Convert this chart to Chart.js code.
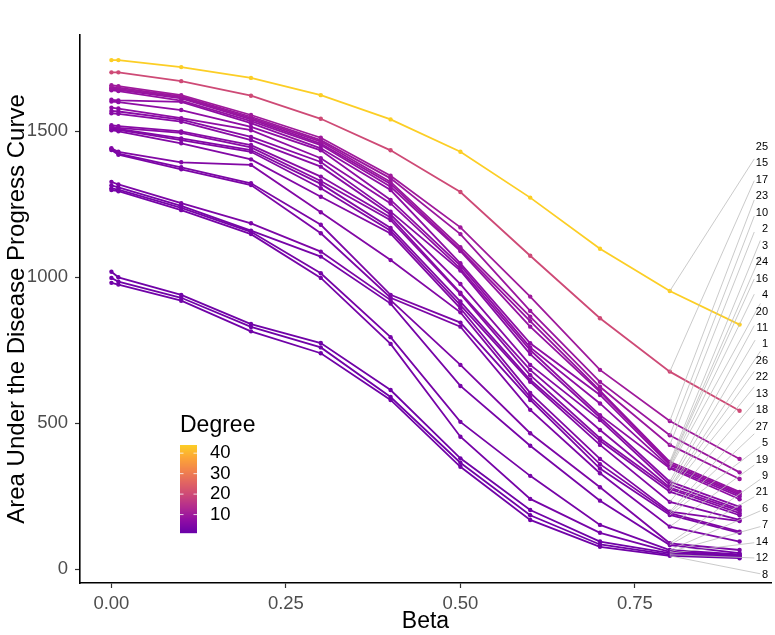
<!DOCTYPE html>
<html>
<head>
<meta charset="utf-8">
<script src="https://cdn.jsdelivr.net/npm/chart.js@4.4.1/dist/chart.umd.min.js"></script>
<style>
  body { margin: 0; background: #fff; }
  #wrap { width: 775px; height: 635px; }
</style>
</head>
<body>
<div id="wrap"><canvas id="chart" width="775" height="635"></canvas></div>
<script>
// x values of every series
const betaValues = [0, 0.01, 0.1, 0.2, 0.3, 0.4, 0.5, 0.6, 0.7, 0.8, 0.9];

// AUDPC per node
const node25 = [1744, 1744, 1720, 1683, 1624, 1541, 1430, 1273, 1098, 953, 838];
const node15 = [1702, 1702, 1672, 1622, 1543, 1435, 1292, 1074, 860, 677, 543];
const node17 = [1658, 1655, 1624, 1556, 1478, 1348, 1171, 934, 683, 508, 378];
const node23 = [1652, 1650, 1620, 1550, 1470, 1339, 1148, 885, 642, 459, 332];
const node10 = [1648, 1645, 1616, 1545, 1465, 1327, 1103, 865, 625, 426, 309];
const node2 = [1645, 1642, 1613, 1541, 1458, 1320, 1094, 850, 612, 368, 265];
const node3 = [1641, 1638, 1605, 1535, 1453, 1310, 1090, 831, 608, 362, 260];
const node24 = [1608, 1606, 1601, 1528, 1442, 1299, 1048, 774, 597, 357, 255];
const node16 = [1602, 1600, 1573, 1515, 1435, 1265, 1040, 760, 568, 350, 249];
const node4 = [1581, 1578, 1545, 1504, 1408, 1253, 1030, 751, 528, 346, 240];
const node20 = [1570, 1568, 1540, 1481, 1395, 1225, 1023, 737, 520, 300, 214];
const node11 = [1562, 1560, 1533, 1470, 1379, 1215, 977, 700, 511, 290, 205];
const node1 = [1521, 1518, 1500, 1453, 1345, 1205, 947, 683, 477, 280, 200];
const node26 = [1516, 1512, 1495, 1445, 1330, 1196, 943, 665, 449, 275, 192];
const node22 = [1512, 1508, 1476, 1436, 1320, 1169, 917, 649, 440, 266, 185];
const node13 = [1508, 1505, 1470, 1430, 1305, 1160, 905, 642, 426, 231, 169];
const node18 = [1504, 1500, 1459, 1404, 1276, 1150, 894, 604, 378, 197, 165];
const node27 = [1442, 1430, 1394, 1385, 1223, 1059, 880, 590, 360, 192, 129];
const node5 = [1440, 1424, 1377, 1322, 1180, 940, 845, 580, 345, 186, 125];
const node19 = [1436, 1420, 1370, 1316, 1151, 930, 831, 546, 329, 146, 95];
const node9 = [1327, 1318, 1254, 1185, 1088, 922, 700, 466, 281, 89, 66];
const node21 = [1315, 1308, 1245, 1160, 1071, 910, 628, 423, 235, 83, 55];
const node6 = [1305, 1300, 1238, 1156, 1014, 795, 505, 320, 152, 66, 51];
const node7 = [1299, 1295, 1230, 1148, 998, 772, 454, 241, 125, 60, 48];
const node14 = [1019, 1000, 940, 840, 775, 614, 380, 203, 95, 55, 45];
const node12 = [998, 985, 930, 830, 760, 590, 365, 185, 85, 50, 42];
const node8 = [981, 975, 920, 815, 740, 580, 351, 169, 77, 46, 38];

// label order on the right side, top to bottom
const nodeIds = ["25", "15", "17", "23", "10", "2", "3", "24", "16", "4", "20", "11", "1", "26",
  "22", "13", "18", "27", "5", "19", "9", "21", "6", "7", "14", "12", "8"];
const nodeValues = [node25, node15, node17, node23, node10, node2, node3, node24, node16, node4,
  node20, node11, node1, node26, node22, node13, node18, node27, node5, node19, node9, node21,
  node6, node7, node14, node12, node8];
const nodeDegree = [44, 20, 10, 9, 9, 8, 8, 7, 7, 7, 6, 6, 6, 6, 5, 5, 5, 5, 4, 4, 4, 3, 3, 3, 2, 2, 2];

const xTicks = [0, 0.25, 0.5, 0.75];
const yTicks = [0, 500, 1000, 1500];
const degreeLimits = [1, 44];
const legendTicks = [10, 20, 30, 40];
const labelBeta = 0.8;

const FONT = "'Liberation Sans', Arial, sans-serif";

// plasma palette, used from 0.2 to 0.9
const plasmaStops = ["#0D0887", "#41049D", "#6A00A8", "#8F0DA4", "#B12A90", "#CC4778",
  "#E16462", "#F2844B", "#FCA636", "#FCCE25", "#F0F921"];

function hexToRgb(h) {
  return [parseInt(h.slice(1, 3), 16), parseInt(h.slice(3, 5), 16), parseInt(h.slice(5, 7), 16)];
}

function plasma(t) {
  let p = t * (plasmaStops.length - 1);
  let i = Math.min(Math.floor(p), plasmaStops.length - 2);
  let f = p - i;
  let a = hexToRgb(plasmaStops[i]);
  let b = hexToRgb(plasmaStops[i + 1]);
  let c = a.map((v, k) => Math.round(v + (b[k] - v) * f));
  return `rgb(${c[0]},${c[1]},${c[2]})`;
}

function degreeColor(d) {
  let t = (d - degreeLimits[0]) / (degreeLimits[1] - degreeLimits[0]);
  return plasma(0.2 + 0.7 * t);
}

let datasets = nodeValues.map((vals, i) => ({
  label: nodeIds[i],
  data: betaValues.map((b, j) => ({ x: b, y: vals[j] })),
  borderColor: degreeColor(nodeDegree[i]),
  backgroundColor: degreeColor(nodeDegree[i]),
  pointBackgroundColor: degreeColor(nodeDegree[i]),
  borderWidth: 1.8,
  pointRadius: 2.2,
  pointBorderWidth: 0,
  tension: 0,
  order: i,
}));

const repelLabels = {
  id: "repelLabels",
  afterDatasetsDraw(chart) {
    const ctx = chart.ctx;
    const xs = chart.scales.x;
    const ys = chart.scales.y;
    const area = chart.chartArea;
    const idx = betaValues.indexOf(labelBeta);
    const firstY = area.top + 112;
    const step = 16.45;
    const rightX = area.right - 3;
    ctx.save();
    ctx.font = `11px ${FONT}`;
    nodeIds.forEach((id, i) => {
      const px = xs.getPixelForValue(labelBeta);
      const py = ys.getPixelForValue(nodeValues[i][idx]);
      const ly = firstY + i * step;
      const w = ctx.measureText(id).width;
      const cx = rightX - w / 2;
      const hw = w / 2 + 1.5;
      const hh = 6;
      // clip the segment at the label box
      let dx = cx - px;
      let dy = ly - py;
      let t = Math.min(
        dx !== 0 ? (Math.abs(dx) - hw) / Math.abs(dx) : 1,
        dy !== 0 ? Math.max((Math.abs(dy) - hh) / Math.abs(dy), (Math.abs(dx) - hw) / Math.abs(dx)) : 1
      );
      t = Math.max(0, Math.min(1, t));
      ctx.strokeStyle = "#BDBDBD";
      ctx.lineWidth = 0.8;
      ctx.beginPath();
      ctx.moveTo(px, py);
      ctx.lineTo(px + dx * t, py + dy * t);
      ctx.stroke();
      ctx.fillStyle = "#000";
      ctx.textAlign = "right";
      ctx.textBaseline = "middle";
      ctx.fillText(id, rightX, ly);
    });
    ctx.restore();
  },
};

const colorBar = {
  id: "colorBar",
  afterDatasetsDraw(chart) {
    const ctx = chart.ctx;
    const area = chart.chartArea;
    const left = area.left + 100;
    const top = area.top + 410;
    const w = 17;
    const h = 88;
    ctx.save();
    ctx.fillStyle = "#000";
    ctx.font = `23px ${FONT}`;
    ctx.textAlign = "left";
    ctx.textBaseline = "alphabetic";
    ctx.fillText("Degree", left, top - 13);
    for (let k = 0; k < h; k++) {
      const d = degreeLimits[1] - (k + 0.5) / h * (degreeLimits[1] - degreeLimits[0]);
      ctx.fillStyle = degreeColor(d);
      ctx.fillRect(left, top + k, w, 1.2);
    }
    ctx.font = `18.5px ${FONT}`;
    ctx.textBaseline = "middle";
    legendTicks.forEach((v) => {
      const y = top + h - (v - degreeLimits[0]) / (degreeLimits[1] - degreeLimits[0]) * h;
      ctx.strokeStyle = "rgba(255,255,255,0.8)";
      ctx.lineWidth = 1;
      ctx.beginPath();
      ctx.moveTo(left, y);
      ctx.lineTo(left + 3.5, y);
      ctx.moveTo(left + w - 3.5, y);
      ctx.lineTo(left + w, y);
      ctx.stroke();
      ctx.fillStyle = "#000";
      ctx.fillText(String(v), left + w + 13, y);
    });
    ctx.restore();
  },
};

new Chart(document.getElementById("chart"), {
  type: "line",
  data: { datasets },
  options: {
    responsive: false,
    devicePixelRatio: 1,
    animation: false,
    layout: { padding: { left: 0, right: 0, top: 35, bottom: 0 } },
    plugins: { legend: { display: false }, tooltip: { enabled: false } },
    scales: {
      x: {
        type: "linear",
        min: -0.045,
        max: 0.945,
        afterBuildTicks: (s) => { s.ticks = xTicks.map((v) => ({ value: v })); },
        afterFit: (s) => { s.height = 52; },
        border: { display: true, color: "#000", width: 1.6 },
        grid: { display: true, drawOnChartArea: false, drawTicks: true, tickLength: 5, tickColor: "#333", tickWidth: 1.2 },
        ticks: {
          color: "#4D4D4D",
          font: { family: FONT, size: 18.5 },
          padding: 5,
          maxRotation: 0,
          callback: (v) => v.toFixed(2),
        },
        title: { display: true, text: "Beta", color: "#000", font: { family: FONT, size: 23 }, padding: { top: 0, bottom: 0 } },
      },
      y: {
        type: "linear",
        min: -47,
        max: 1830,
        afterBuildTicks: (s) => { s.ticks = yTicks.map((v) => ({ value: v })); },
        afterFit: (s) => { s.width = 80; },
        border: { display: true, color: "#000", width: 1.6 },
        grid: { display: true, drawOnChartArea: false, drawTicks: true, tickLength: 5, tickColor: "#333", tickWidth: 1.2 },
        ticks: {
          color: "#4D4D4D",
          font: { family: FONT, size: 18.5 },
          padding: 7,
          callback: (v) => String(v),
        },
        title: {
          display: true,
          text: "Area Under the Disease Progress Curve",
          color: "#000",
          font: { family: FONT, size: 24 },
          padding: { top: 3, bottom: 0 },
        },
      },
    },
  },
  plugins: [repelLabels, colorBar],
});
</script>
</body>
</html>
